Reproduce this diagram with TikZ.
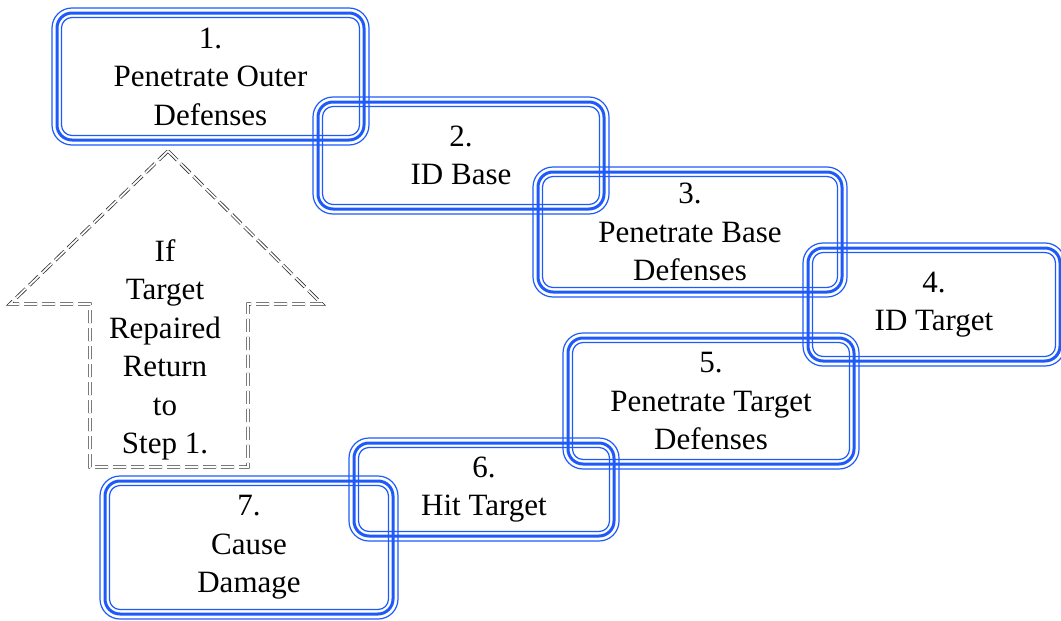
\documentclass[tikz,border=0pt]{standalone}
\usepackage{fontspec}
\setmainfont{LiberationSerif}[Extension=.ttf,UprightFont=*-Regular,BoldFont=*-Bold,ItalicFont=*-Italic]
\definecolor{boxblue}{RGB}{30,90,250}
\definecolor{arrgray}{RGB}{50,50,50}
\tikzset{
  bthin/.style={draw=boxblue,line width=1.2pt},
  bthick/.style={draw=boxblue,line width=3pt},
  lbl/.style={align=center,inner sep=0pt,font=\fontsize{31}{38.5}\selectfont},
  retarrow/.style={draw=arrgray,line width=0.8pt,double=white,double distance=1.8pt,dash pattern=on 13pt off 5pt},
}
\newcommand\tribox[6]{%
  \draw[bthin,rounded corners=20pt] (#2+1,#3+1) rectangle (#4-1,#5-1);
  \draw[bthick,rounded corners=15pt] (#2+6,#3+6) rectangle (#4-6,#5-6);
  \draw[bthin,rounded corners=10.5pt] (#2+10.5,#3+10.5) rectangle (#4-10.5,#5-10.5);
  \node[lbl] (#1) at ({(#2+#4)/2},{(#3+#5)/2}) {#6};
}
\begin{document}
\begin{tikzpicture}[x=1pt,y=-1pt]
\useasboundingbox (0,0) rectangle (1061,621);
\begin{scope}
\clip (0,0) rectangle (1061,621);
\tribox{b1}{51}{7}{370}{146}{1.\\Penetrate Outer\\Defenses}
\tribox{b2}{312}{96}{610}{215}{2.\\ID Base}
\tribox{b3}{532}{166}{848}{298}{3.\\Penetrate Base\\Defenses}
\tribox{b4}{802}{242}{1066}{367}{4.\\ID Target}
\tribox{b5}{562}{332}{860}{470}{5.\\Penetrate Target\\Defenses}
\tribox{b6}{348}{437}{620}{542}{6.\\Hit Target}
\tribox{b7}{99}{475}{399}{620}{7.\\Cause\\Damage}
\end{scope}
\draw[retarrow] (168,151) -- (322,304) -- (248,304) -- (248,467) -- (90,467) -- (90,304) -- (10,304) -- cycle;
\node[lbl] (ret) at (165,350) {If\\Target\\Repaired\\Return\\to\\Step 1.};
\end{tikzpicture}
\end{document}
